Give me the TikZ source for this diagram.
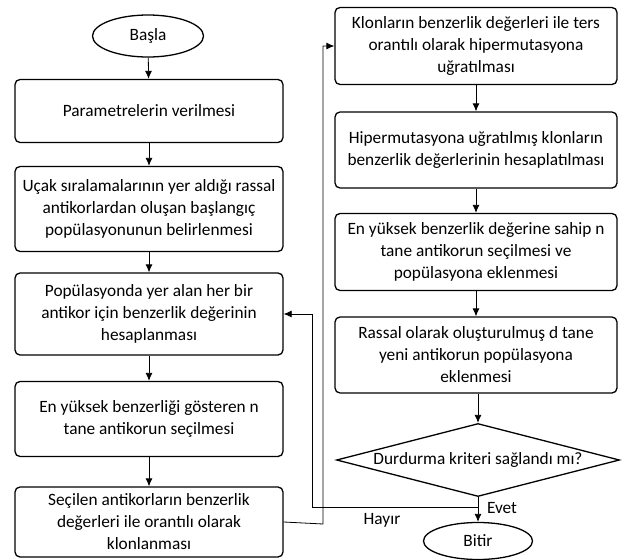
\documentclass[tikz,border=0pt]{standalone}
\usepackage{fontspec}
\setmainfont{Carlito}
\usetikzlibrary{positioning, shapes.geometric, arrows.meta}

\begin{document}
\begin{tikzpicture}[x=1pt, y=-1pt,
	adim/.style={rectangle, draw=black, line width=1.3pt, rounded corners=5, align=center, font=\fontsize{17.3}{22}\selectfont},
	sonbas/.style={ellipse, draw=black, line width=1.3pt, inner sep=0, font=\fontsize{17.3}{22}\selectfont},
	karar/.style={diamond, draw=black, line width=1.3pt, inner sep=0, aspect=3.9, font=\fontsize{17.3}{22}\selectfont},
	ok/.style={-{Latex[length=8pt, width=7pt]}, line width=0.8pt},
	]
	\useasboundingbox (0,0) rectangle (625,560);
		%Nodes
    \node[sonbas, minimum width=111, minimum height=42] (Basla) at (148,36)  {Başla};
    \node[adim, minimum width=268, minimum height=63]   (Param) at (149,111) {Parametrelerin verilmesi};
    \node[adim, minimum width=268, minimum height=85]   (Ilk)   at (149,209) {Uçak sıralamalarının yer aldığı rassal\\antikorlardan oluşan başlangıç\\popülasyonunun belirlenmesi};
    \node[adim, minimum width=268, minimum height=82]   (Hesap) at (149,314) {Popülasyonda yer alan her bir\\antikor için benzerlik değerinin\\hesaplanması};
    \node[adim, minimum width=268, minimum height=75]   (Secim) at (149,419) {En yüksek benzerliği gösteren n\\tane antikorun seçilmesi};
    \node[adim, minimum width=268, minimum height=70]   (Klon)  at (149,522) {Seçilen antikorların benzerlik\\değerleri ile orantılı olarak\\klonlanması};

    \node[adim, minimum width=282, minimum height=77]   (Hiper) at (476,46)  {Klonların benzerlik değerleri ile ters\\orantılı olarak hipermutasyona\\uğratılması};
    \node[adim, minimum width=282, minimum height=76]   (Hesap2) at (476,150) {Hipermutasyona uğratılmış klonların\\benzerlik değerlerinin hesaplatılması};
    \node[adim, minimum width=282, minimum height=77]   (Ekle)  at (476,252) {En yüksek benzerlik değerine sahip n\\tane antikorun seçilmesi ve\\popülasyona eklenmesi};
    \node[adim, minimum width=282, minimum height=76]   (Yeni)  at (476,355) {Rassal olarak oluşturulmuş d tane\\yeni antikorun popülasyona\\eklenmesi};
    \node[karar, minimum width=283, minimum height=73]  (Dur)   at (478,460) {Durdurma kriteri sağlandı mı?};
    \node[sonbas, minimum width=109, minimum height=37] (Bitir) at (478,541) {Bitir};

    \coordinate (ayrim) at (478,507);
    \node[font=\fontsize{17.3}{22}\selectfont] (Evet)  at (502,508) {Evet};
    \node[font=\fontsize{17.3}{22}\selectfont] (Hayir) at (382,520) {Hayır};

		%Lines
		\draw[ok] (Basla) to (Param);
		\draw[ok] (Param) to (Ilk);
		\draw[ok] (Ilk) to (Hesap);
		\draw[ok] (Hesap) to (Secim);
		\draw[ok] (Secim) to (Klon);
		\draw[ok] (Klon.east) -- (323,524) |- (Hiper.west);
		\draw[ok] (Hiper) to (Hesap2);
		\draw[ok] (Hesap2) to (Ekle);
		\draw[ok] (Ekle) to (Yeni);
		\draw[ok] (Yeni.south -| Dur.north) to (Dur.north);
		\draw[ok] (Dur.south) to (Bitir.north);
		\draw[ok] (ayrim) -- (312,507) |- (Hesap.east);
	\end{tikzpicture}
\end{document}
